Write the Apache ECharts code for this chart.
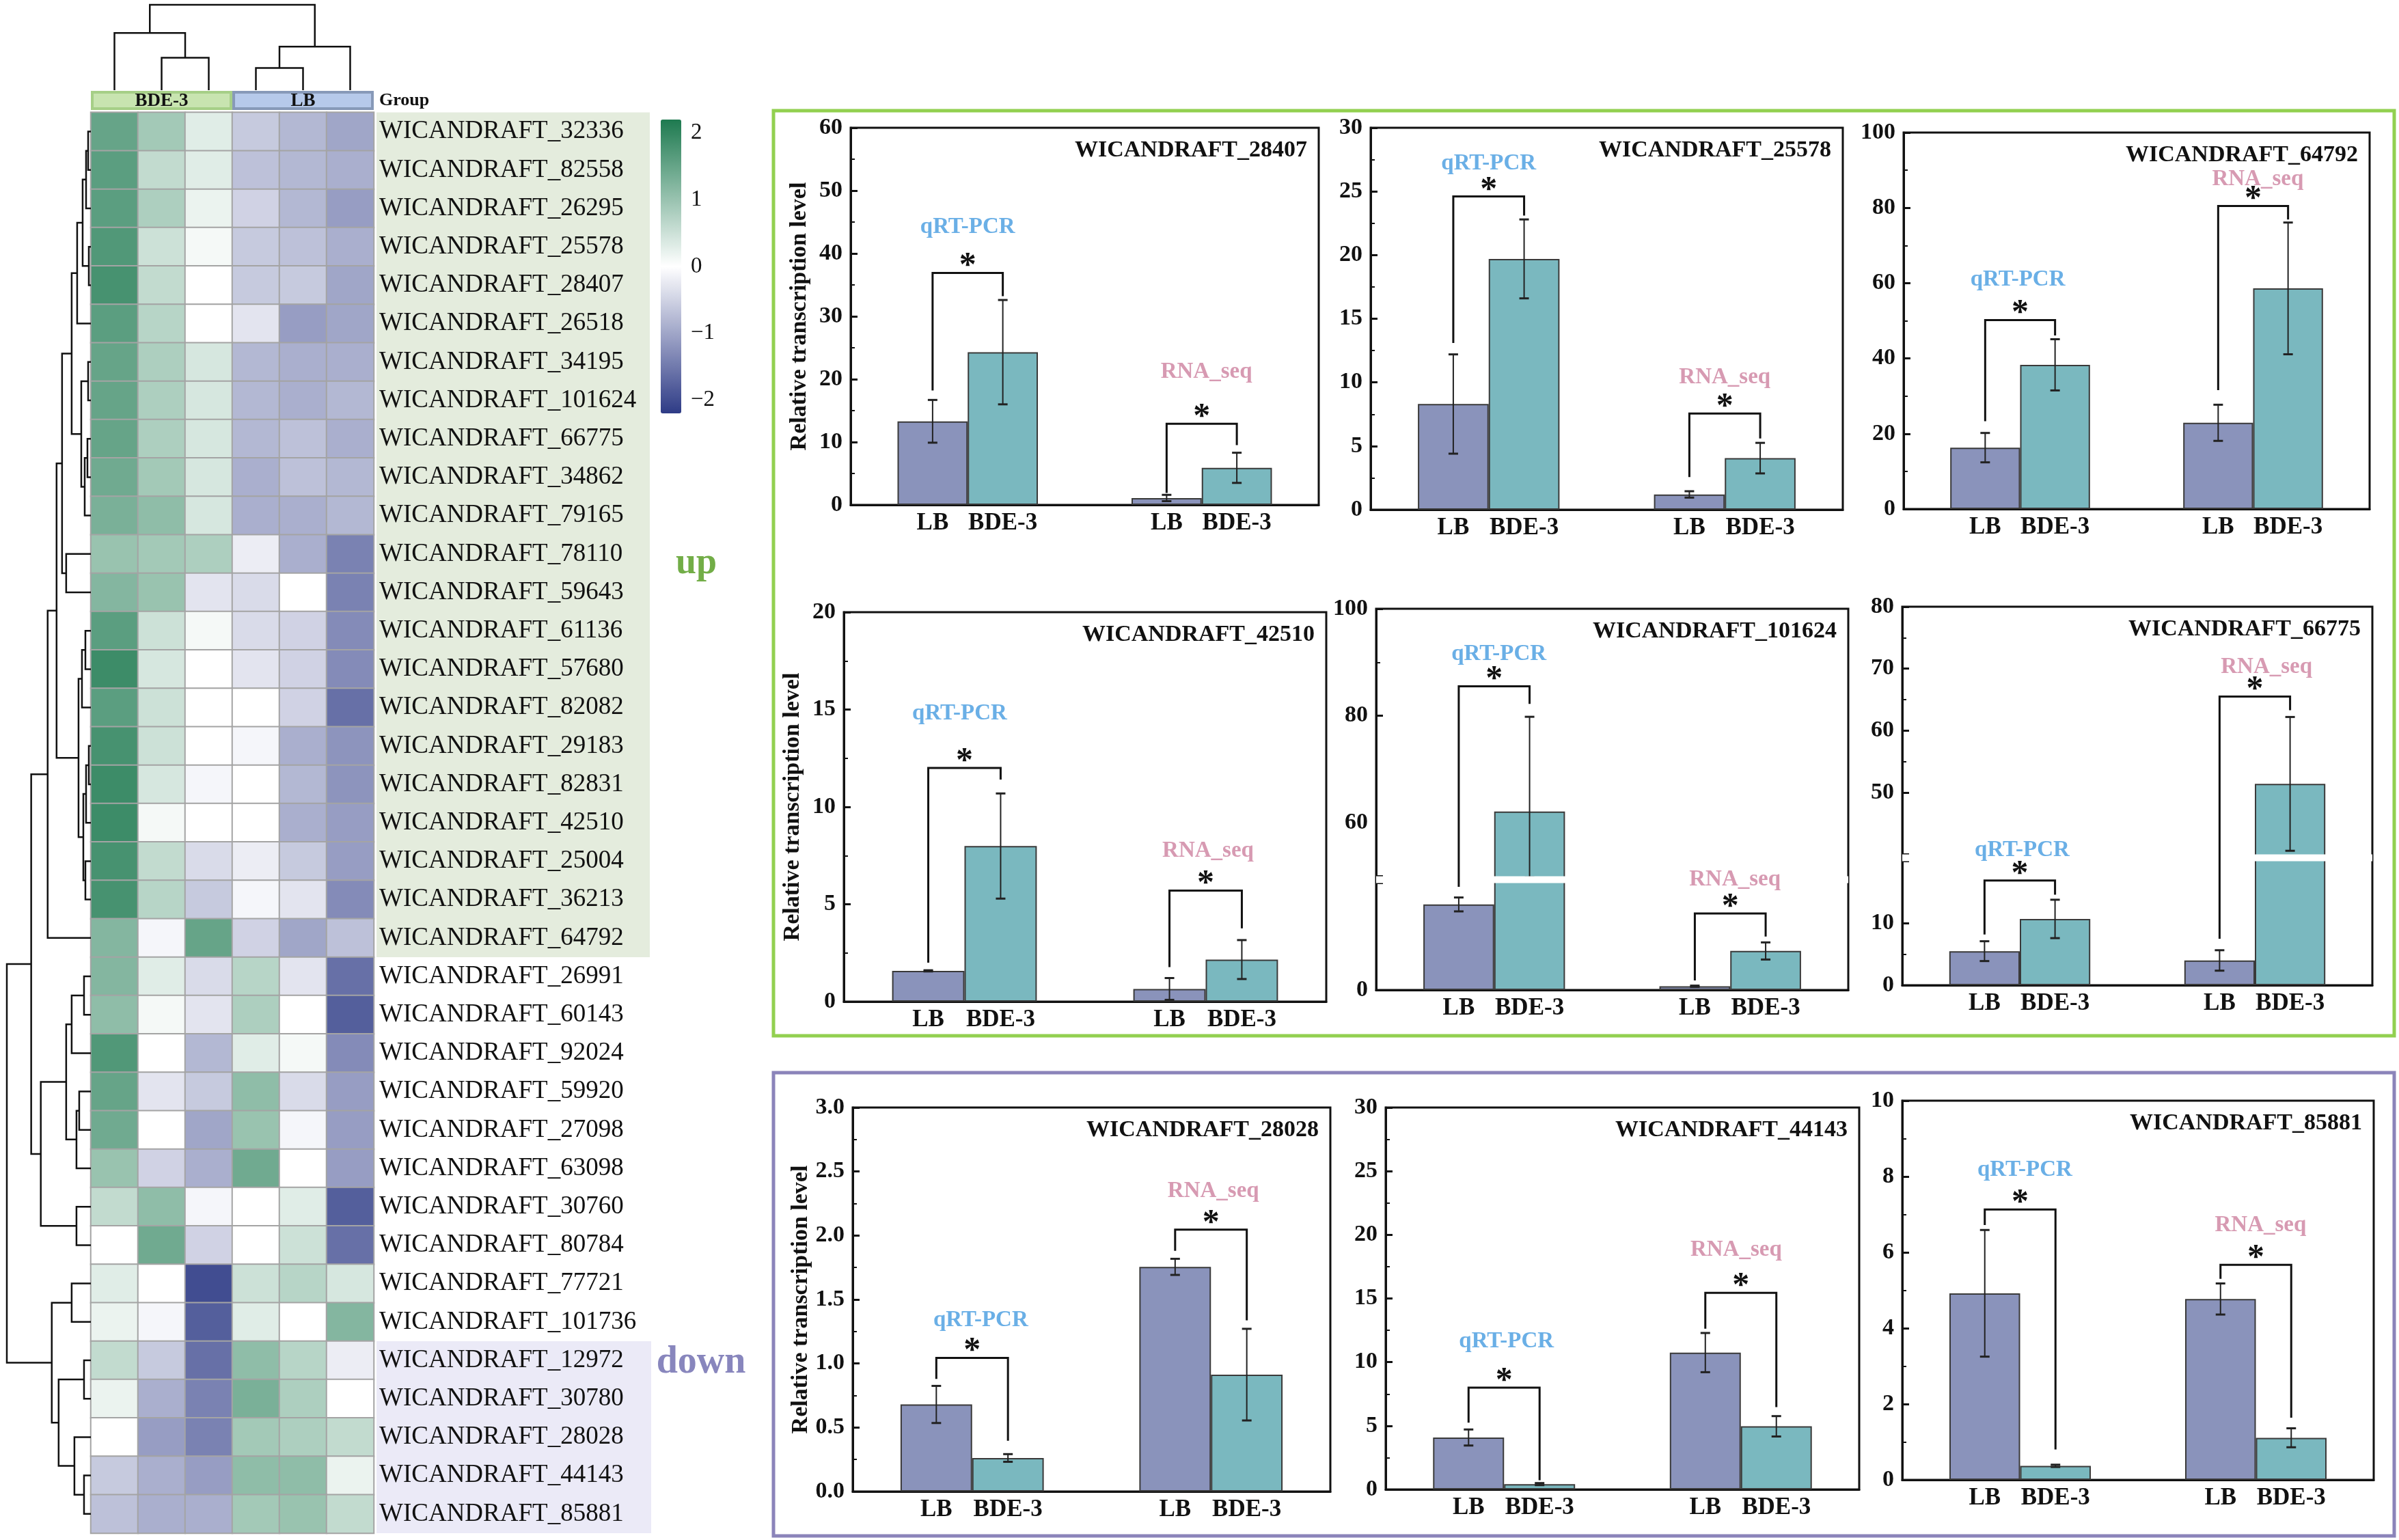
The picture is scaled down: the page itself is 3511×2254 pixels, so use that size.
<!DOCTYPE html>
<html>
<head>
<meta charset="utf-8">
<title>Heatmap and transcription validation</title>
<script src="https://cdn.jsdelivr.net/npm/echarts@6.0.0/dist/echarts.min.js"></script>
<style>
  html, body { margin: 0; padding: 0; background: #fff; }
  #chart { width: 3511px; height: 2254px; }
</style>
</head>
<body>
<div id="chart"></div>
<script>
// heatmap rows, top to bottom
const geneRows = ['WICANDRAFT_32336', 'WICANDRAFT_82558', 'WICANDRAFT_26295', 'WICANDRAFT_25578', 'WICANDRAFT_28407',
  'WICANDRAFT_26518', 'WICANDRAFT_34195', 'WICANDRAFT_101624', 'WICANDRAFT_66775', 'WICANDRAFT_34862',
  'WICANDRAFT_79165', 'WICANDRAFT_78110', 'WICANDRAFT_59643', 'WICANDRAFT_61136', 'WICANDRAFT_57680',
  'WICANDRAFT_82082', 'WICANDRAFT_29183', 'WICANDRAFT_82831', 'WICANDRAFT_42510', 'WICANDRAFT_25004',
  'WICANDRAFT_36213', 'WICANDRAFT_64792', 'WICANDRAFT_26991', 'WICANDRAFT_60143', 'WICANDRAFT_92024',
  'WICANDRAFT_59920', 'WICANDRAFT_27098', 'WICANDRAFT_63098', 'WICANDRAFT_30760', 'WICANDRAFT_80784',
  'WICANDRAFT_77721', 'WICANDRAFT_101736', 'WICANDRAFT_12972', 'WICANDRAFT_30780', 'WICANDRAFT_28028',
  'WICANDRAFT_44143', 'WICANDRAFT_85881']
const sampleCols = ['BDE-3 a', 'BDE-3 b', 'BDE-3 c', 'LB a', 'LB b', 'LB c']
// row z-scores, one line per gene, columns as sampleCols
const zScores = [
  [1.5, 0.9, 0.3, -0.6, -0.8, -1.0],
  [1.6, 0.6, 0.3, -0.7, -0.8, -0.9],
  [1.6, 0.8, 0.2, -0.5, -0.8, -1.1],
  [1.7, 0.5, 0.1, -0.6, -0.7, -0.9],
  [1.8, 0.6, 0.0, -0.6, -0.6, -1.0],
  [1.6, 0.7, 0.0, -0.3, -1.1, -1.0],
  [1.5, 0.8, 0.4, -0.8, -0.9, -0.9],
  [1.5, 0.8, 0.4, -0.8, -0.9, -0.8],
  [1.5, 0.8, 0.4, -0.8, -0.7, -0.9],
  [1.4, 0.9, 0.4, -0.9, -0.7, -0.8],
  [1.3, 1.1, 0.4, -0.9, -0.9, -0.8],
  [1.0, 0.9, 0.8, -0.2, -0.9, -1.4],
  [1.2, 1.0, -0.3, -0.4, 0.0, -1.4],
  [1.6, 0.5, 0.1, -0.4, -0.5, -1.3],
  [1.9, 0.4, 0.0, -0.3, -0.5, -1.3],
  [1.6, 0.5, 0.0, 0.0, -0.5, -1.6],
  [1.8, 0.5, 0.0, -0.1, -0.9, -1.2],
  [1.9, 0.4, -0.1, 0.0, -0.8, -1.2],
  [1.9, 0.1, 0.0, 0.0, -0.9, -1.1],
  [1.8, 0.6, -0.4, -0.2, -0.6, -1.1],
  [1.8, 0.7, -0.6, -0.1, -0.3, -1.3],
  [1.2, -0.1, 1.5, -0.5, -1.0, -0.7],
  [1.2, 0.3, -0.4, 0.7, -0.3, -1.6],
  [1.1, 0.1, -0.3, 0.8, 0.0, -1.8],
  [1.7, 0.0, -0.8, 0.3, 0.1, -1.3],
  [1.5, -0.3, -0.6, 1.1, -0.4, -1.1],
  [1.4, 0.0, -1.0, 1.0, -0.1, -1.1],
  [1.0, -0.5, -0.9, 1.4, 0.0, -1.1],
  [0.6, 1.1, -0.1, 0.0, 0.3, -1.8],
  [0.0, 1.4, -0.5, 0.0, 0.5, -1.6],
  [0.3, 0.0, -2.0, 0.5, 0.7, 0.4],
  [0.2, -0.1, -1.8, 0.3, 0.0, 1.2],
  [0.6, -0.6, -1.6, 1.1, 0.7, -0.2],
  [0.2, -0.9, -1.4, 1.3, 0.8, 0.0],
  [0.0, -1.1, -1.4, 0.9, 0.8, 0.6],
  [-0.6, -0.9, -1.1, 1.1, 1.1, 0.2],
  [-0.7, -0.9, -0.9, 0.9, 1.0, 0.6]
]
const scaleTicks = [2, 1, 0, -1, -2]
const groupNames = ['BDE-3', 'LB']
const groupSpans = [[0, 3], [3, 6]]

// clustering, hclust style: negative = leaf, positive = earlier merge (1-based), then height
const colMerge = [[-2, -3, 3.8], [-4, -5, 2.6], [-1, 1, 6.7], [2, -6, 5.1], [3, 4, 10]]
const rowMerge = [
  [-1, -2, 4], [-4, -5, 3], [1, -3, 7], [3, 2, 12], [4, -6, 20],
  [-7, -8, 4], [-9, -10, 5], [7, -11, 9], [6, 8, 14], [5, 9, 28],
  [-12, -13, 36], [10, 11, 42], [-14, -15, 8], [13, -16, 13], [-17, -18, 3],
  [15, -19, 7], [-20, -21, 8], [16, 17, 11], [14, 18, 18], [12, 19, 50],
  [20, -22, 63], [-23, -24, 10], [22, -25, 28], [-26, -27, 17], [24, -28, 21],
  [23, 25, 36], [-29, -30, 21], [26, 27, 73], [21, 28, 87], [-31, -32, 28],
  [-33, -34, 10], [-36, -37, 10], [-35, 32, 24], [31, 33, 47], [30, 34, 57],
  [29, 35, 122.5]
]

// validation panels: [qRT-PCR, RNA_seq]
const methods = ['qRT-PCR', 'RNA_seq']
const panelGenes = ['WICANDRAFT_28407', 'WICANDRAFT_25578', 'WICANDRAFT_64792', 'WICANDRAFT_42510',
  'WICANDRAFT_101624', 'WICANDRAFT_66775', 'WICANDRAFT_28028', 'WICANDRAFT_44143', 'WICANDRAFT_85881']
const lbMean = [[13.3, 1.1], [8.3, 1.2], [16.3, 22.9], [1.58, 0.65], [16.0, 0.7], [5.5, 4.0], [0.68, 1.755], [4.08, 10.75], [4.92, 4.77]]
const lbSd = [[3.4, 0.5], [3.9, 0.25], [3.9, 4.8], [0.03, 0.56], [1.3, 0.12], [1.6, 1.65], [0.145, 0.063], [0.63, 1.54], [1.67, 0.41]]
const bdeMean = [[24.3, 5.9], [19.7, 4.05], [38.3, 58.6], [7.99, 2.16], [62.1, 7.3], [10.7, 51.4], [0.262, 0.913], [0.42, 4.96], [0.37, 1.11]]
const bdeSd = [[8.3, 2.4], [3.1, 1.2], [6.8, 17.5], [2.7, 1.0], [17.7, 1.6], [3.1, 10.8], [0.03, 0.358], [0.08, 0.8], [0.03, 0.25]]
const yTickLabels = [
  [0, 10, 20, 30, 40, 50, 60],
  [0, 5, 10, 15, 20, 25, 30],
  [0, 20, 40, 60, 80, 100],
  [0, 5, 10, 15, 20],
  [0, 60, 80, 100],
  [0, 10, 50, 60, 70, 80],
  [0, 0.5, 1, 1.5, 2, 2.5, 3],
  [0, 5, 10, 15, 20, 25, 30],
  [0, 2, 4, 6, 8, 10]
]
const yStep = [10, 5, 20, 5, 20, 10, 0.5, 5, 2]
const yBreaks = [null, null, null, null, [20, 50], [20, 40], null, null, null]
// significance brackets: [top, left end, right end]
const bracketQ = [[36.9, 18.2, 33.2], [24.6, 13.1, 23.1], [50.2, 23.3, 46.1], [12.0, 2.0, 11.4], [85.5, 19.3, 82.2],
  [16.9, 8.2, 14.6], [1.044, 0.88, 0.396], [7.99, 5.25, 0.73], [7.13, 6.72, 0.8]]
const bracketR = [[12.9, 1.9, 9.5], [7.56, 2.56, 5.6], [80.5, 31.6, 76.9], [5.7, 1.77, 3.76], [14.3, 1.8, 10.0],
  [65.5, 7.5, 63.3], [2.046, 1.88, 1.337], [15.44, 12.63, 6.47], [5.67, 5.3, 1.64]]
// method tags: [x, y]
const tagQ = [[0, 44.2], [0, 27.2], [-0.01, 60.9], [-0.02, 14.8], [0.02, 91.5], [0.01, 40.7], [0.036, 1.337], [0.01, 11.6], [0.02, 8.17]]
const tagR = [[1.02, 21.1], [1.0, 10.4], [1.02, 87.6], [1.01, 7.73], [1.02, 35], [1.05, 70.2], [1.01, 2.345], [0.98, 18.8], [1.02, 6.72]]

// layout
const serif = 'Liberation Serif'
const ink = '#111'
const panelBox = [
  { l: 1245, t: 187, r: 1930, b: 739 },
  { l: 2006, t: 187, r: 2697, b: 746 },
  { l: 2786, t: 194, r: 3468, b: 745 },
  { l: 1235, t: 896, r: 1941, b: 1466 },
  { l: 2014, t: 891, r: 2705, b: 1449 },
  { l: 2784, t: 888, r: 3472, b: 1442 },
  { l: 1248, t: 1621, r: 1947, b: 2183 },
  { l: 2028, t: 1621, r: 2721, b: 2180 },
  { l: 2784, t: 1611, r: 3474, b: 2166 }
]
const rowH = 56.2
const heatTop = 164.5

function dendroSegments (merge) {
  const pos = []
  const get = id => id < 0 ? [-id - 0.5, 0] : [pos[id - 1], merge[id - 1][2]]
  return merge.map(([a, b, h], k) => {
    const [pa, ha] = get(a)
    const [pb, hb] = get(b)
    pos[k] = (pa + pb) / 2
    return [pa, ha, pb, hb, h]
  })
}

function elbow (api, sideways) {
  const v = [0, 1, 2, 3, 4].map(i => api.value(i))
  const pt = sideways ? (p, h) => api.coord([h, p]) : (p, h) => api.coord([p, h])
  return {
    type: 'polyline',
    shape: { points: [pt(v[0], v[1]), pt(v[0], v[4]), pt(v[2], v[4]), pt(v[2], v[3])] },
    style: { stroke: ink, lineWidth: 2.5, fill: null }
  }
}

const grid = []
const xAxis = []
const yAxis = []
const series = []
const title = []

// column dendrogram
grid.push({ left: 133, top: 7, width: 414, height: 125 })
xAxis.push({ type: 'value', gridIndex: 0, min: 0, max: 6, show: false })
yAxis.push({ type: 'value', gridIndex: 0, min: 0, max: 10, show: false })
series.push({ type: 'custom', xAxisIndex: 0, yAxisIndex: 0, silent: true, data: dendroSegments(colMerge), renderItem: (p, api) => elbow(api, false) })

// group bar
grid.push({ left: 133, top: 133, width: 414, height: 28 })
xAxis.push({ type: 'value', gridIndex: 1, min: 0, max: 6, show: false })
yAxis.push({
  type: 'category', gridIndex: 1, data: ['Group'], position: 'right',
  axisLine: { show: false }, axisTick: { show: false },
  axisLabel: { fontFamily: serif, fontWeight: 'bold', fontSize: 26, color: ink, margin: 8 }
})
const groupFill = ['#c8e4b0', '#b6c9ea']
const groupStroke = ['#a6cf87', '#8799b8']
series.push({
  type: 'custom', xAxisIndex: 1, yAxisIndex: 1, silent: true,
  data: groupSpans.map(s => [s[0], s[1], 0]),
  renderItem: (params, api) => {
    const a = api.coord([api.value(0), 0])
    const b = api.coord([api.value(1), 0])
    const h = api.size([0, 1])[1]
    const i = params.dataIndex
    return {
      type: 'group',
      children: [
        { type: 'rect', shape: { x: a[0] + 2, y: a[1] - h / 2 + 2, width: b[0] - a[0] - 4, height: h - 4 }, style: { fill: groupFill[i], stroke: groupStroke[i], lineWidth: 4 } },
        { type: 'text', style: { x: (a[0] + b[0]) / 2, y: a[1] + 1, text: groupNames[i], align: 'center', verticalAlign: 'middle', font: 'bold 27px ' + serif, fill: ink } }
      ]
    }
  }
})

// heatmap
grid.push({ left: 133, top: heatTop, width: 414, height: rowH * geneRows.length })
xAxis.push({ type: 'category', gridIndex: 2, data: sampleCols, show: false })
yAxis.push({
  type: 'category', gridIndex: 2, data: geneRows, inverse: true, position: 'right',
  axisLine: { show: false }, axisTick: { show: false },
  axisLabel: { interval: 0, fontFamily: serif, fontSize: 37, color: ink, margin: 8 }
})
const heatData = []
zScores.forEach((row, r) => row.forEach((v, c) => heatData.push([c, r, v])))
const heatIndex = series.length
series.push({
  type: 'heatmap', xAxisIndex: 2, yAxisIndex: 2, data: heatData, silent: true,
  itemStyle: { borderColor: '#a4a4a4', borderWidth: 2 }
})

// row dendrogram
grid.push({ left: 10, top: heatTop, width: 123, height: rowH * geneRows.length })
xAxis.push({ type: 'value', gridIndex: 3, min: 0, max: 122.5, inverse: true, show: false })
yAxis.push({ type: 'value', gridIndex: 3, min: 0, max: geneRows.length, inverse: true, show: false })
series.push({ type: 'custom', xAxisIndex: 3, yAxisIndex: 3, silent: true, data: dendroSegments(rowMerge), renderItem: (p, api) => elbow(api, true) })

// colour scale labels
grid.push({ left: 996, top: 175, width: 1, height: 430 })
xAxis.push({ type: 'value', gridIndex: 4, show: false })
yAxis.push({
  type: 'value', gridIndex: 4, min: -2.2, max: 2.2, position: 'right',
  axisLine: { show: false }, axisTick: { show: false }, splitLine: { show: false },
  axisLabel: {
    customValues: scaleTicks, margin: 14, fontFamily: serif, fontSize: 33, color: ink,
    formatter: v => scaleTicks.includes(v) ? (v < 0 ? '\u2212' + Math.abs(v) : String(v)) : ''
  }
})

// validation bar panels
const barFill = ['#8a93bb', '#7ab8bf']
const tagColor = ['#6aafe6', '#d79ab2']
const labelFont = { fontFamily: serif, fontWeight: 'bold', fontSize: 35, color: ink }

panelGenes.forEach((gene, p) => {
  const b = panelBox[p]
  const gi = grid.length
  grid.push({ left: b.l, top: b.t, width: b.r - b.l, height: b.b - b.t, show: true, borderColor: ink, borderWidth: 3, backgroundColor: 'transparent' })
  const xc = xAxis.length
  xAxis.push({
    type: 'category', gridIndex: gi, data: methods,
    axisLine: { onZero: false, lineStyle: { color: ink, width: 3 } },
    axisTick: { inside: true, length: 10, alignWithLabel: false, lineStyle: { color: ink, width: 3 } },
    axisLabel: { show: false }
  })
  const xv = xAxis.length
  xAxis.push({ type: 'value', gridIndex: gi, min: -0.5, max: 1.5, show: false, axisLine: { onZero: false } })
  const yi = yAxis.length
  const ticks = yTickLabels[p]
  const y = {
    type: 'value', gridIndex: gi, min: 0, max: ticks[ticks.length - 1], interval: yStep[p],
    axisLine: { show: true, onZero: false, lineStyle: { color: ink, width: 3 } },
    axisTick: { inside: true, length: 10, lineStyle: { color: ink, width: 3 } },
    minorTick: { show: true, splitNumber: 2, length: 6, lineStyle: { color: ink, width: 2 } },
    splitLine: { show: false },
    axisLabel: Object.assign({}, labelFont, {
      fontSize: 34,
      margin: 12,
      customValues: ticks,
      formatter: v => ticks.some(t => Math.abs(t - v) < 1e-9) ? (yStep[p] < 1 ? v.toFixed(1) : String(v)) : ''
    })
  }
  if (p % 3 === 0) {
    Object.assign(y, {
      name: 'Relative transcription level', nameLocation: 'middle', nameRotate: 90, nameGap: 58,
      nameTextStyle: { fontFamily: serif, fontWeight: 'bold', fontSize: 34, color: ink }
    })
  }
  if (yBreaks[p]) {
    y.breaks = [{ start: yBreaks[p][0], end: yBreaks[p][1], gap: '1.8%' }]
    y.breakArea = { show: true, expandOnClick: false, zigzagAmplitude: 0, itemStyle: { color: '#fff', borderColor: '#fff', borderWidth: 0, opacity: 1 } }
  }
  yAxis.push(y)

  const bar = (name, data, i) => ({
    type: 'bar', name, xAxisIndex: xc, yAxisIndex: yi, data, silent: true,
    barWidth: '30%', barGap: '0%',
    itemStyle: { color: barFill[i], borderColor: '#3a3a3a', borderWidth: 2 },
    label: Object.assign({ show: true, position: 'bottom', distance: 9, formatter: name }, labelFont)
  })
  series.push(bar('LB', lbMean[p], 0))
  series.push(bar('BDE-3', bdeMean[p], 1))

  // error bars: [x, mean, sd]
  series.push({
    type: 'custom', xAxisIndex: xv, yAxisIndex: yi, silent: true, z: 5,
    data: [[-0.15, lbMean[p][0], lbSd[p][0]], [0.15, bdeMean[p][0], bdeSd[p][0]],
      [0.85, lbMean[p][1], lbSd[p][1]], [1.15, bdeMean[p][1], bdeSd[p][1]]],
    renderItem: (params, api) => {
      const x = api.value(0)
      const m = api.value(1)
      const s = api.value(2)
      const hi = api.coord([x, m + s])
      const lo = api.coord([x, Math.max(m - s, 0)])
      const st = { stroke: '#222', lineWidth: 2 }
      return {
        type: 'group',
        children: [
          { type: 'line', shape: { x1: hi[0], y1: hi[1], x2: lo[0], y2: lo[1] }, style: st },
          { type: 'line', shape: { x1: hi[0] - 7, y1: hi[1], x2: hi[0] + 7, y2: hi[1] }, style: { stroke: '#222', lineWidth: 3 } },
          { type: 'line', shape: { x1: lo[0] - 7, y1: lo[1], x2: lo[0] + 7, y2: lo[1] }, style: { stroke: '#222', lineWidth: 3 } }
        ]
      }
    }
  })

  // significance brackets
  series.push({
    type: 'custom', xAxisIndex: xv, yAxisIndex: yi, silent: true, z: 300,
    data: [[-0.15, 0.15].concat(bracketQ[p]), [0.85, 1.15].concat(bracketR[p])],
    renderItem: (params, api) => {
      const v = [0, 1, 2, 3, 4].map(i => api.value(i))
      const a = api.coord([v[0], v[3]])
      const b1 = api.coord([v[0], v[2]])
      const c = api.coord([v[1], v[2]])
      const d = api.coord([v[1], v[4]])
      return {
        type: 'group',
        children: [
          { type: 'polyline', shape: { points: [a, b1, c, d] }, style: { stroke: ink, lineWidth: 3, fill: null } },
          { type: 'text', style: { x: (b1[0] + c[0]) / 2, y: b1[1] + 16, text: '*', align: 'center', verticalAlign: 'bottom', font: 'bold 50px ' + serif, fill: ink } }
        ]
      }
    }
  })

  // method tags
  series.push({
    type: 'custom', xAxisIndex: xv, yAxisIndex: yi, silent: true, z: 300,
    data: [tagQ[p], tagR[p]],
    renderItem: (params, api) => {
      const pt = api.coord([api.value(0), api.value(1)])
      return {
        type: 'text',
        style: { x: pt[0], y: pt[1], text: methods[params.dataIndex], align: 'center', verticalAlign: 'middle', font: 'bold 33px ' + serif, fill: tagColor[params.dataIndex] }
      }
    }
  })

  title.push({
    text: gene, right: 3511 - (b.r - 17), top: b.t + 16, padding: 0,
    textStyle: { fontFamily: serif, fontWeight: 'bold', fontSize: 34, color: ink }
  })
})

const option = {
  backgroundColor: '#fff',
  animation: false,
  textStyle: { fontFamily: serif },
  title,
  grid,
  xAxis,
  yAxis,
  visualMap: {
    type: 'continuous', seriesIndex: heatIndex, dimension: 2, min: -2.2, max: 2.2,
    calculable: false, orient: 'vertical', left: 967, top: 175, itemWidth: 30, itemHeight: 430, padding: 0,
    inRange: { color: ['#2e3b86', '#ffffff', '#1e7a50'] }
  },
  graphic: [
    { type: 'rect', z: -100, shape: { x: 551, y: heatTop, width: 400, height: rowH * 22 }, style: { fill: '#e4ecdd' } },
    { type: 'rect', z: -100, shape: { x: 551, y: heatTop + rowH * 32, width: 402, height: rowH * 5 }, style: { fill: '#ebeaf7' } },
    { type: 'text', style: { x: 1019, y: 825, text: 'up', align: 'center', verticalAlign: 'middle', font: 'bold 54px ' + serif, fill: '#72ad47' } },
    { type: 'text', style: { x: 1026, y: 1995, text: 'down', align: 'center', verticalAlign: 'middle', font: 'bold 56px ' + serif, fill: '#8886bd' } },
    { type: 'rect', shape: { x: 1132, y: 162, width: 2372, height: 1354 }, style: { fill: 'none', stroke: '#92d050', lineWidth: 5 } },
    { type: 'rect', shape: { x: 1132, y: 1570, width: 2372, height: 678 }, style: { fill: 'none', stroke: '#8b84ba', lineWidth: 5 } }
  ],
  series
}

const chart = echarts.init(document.getElementById('chart'))
chart.setOption(option)
</script>
</body>
</html>
